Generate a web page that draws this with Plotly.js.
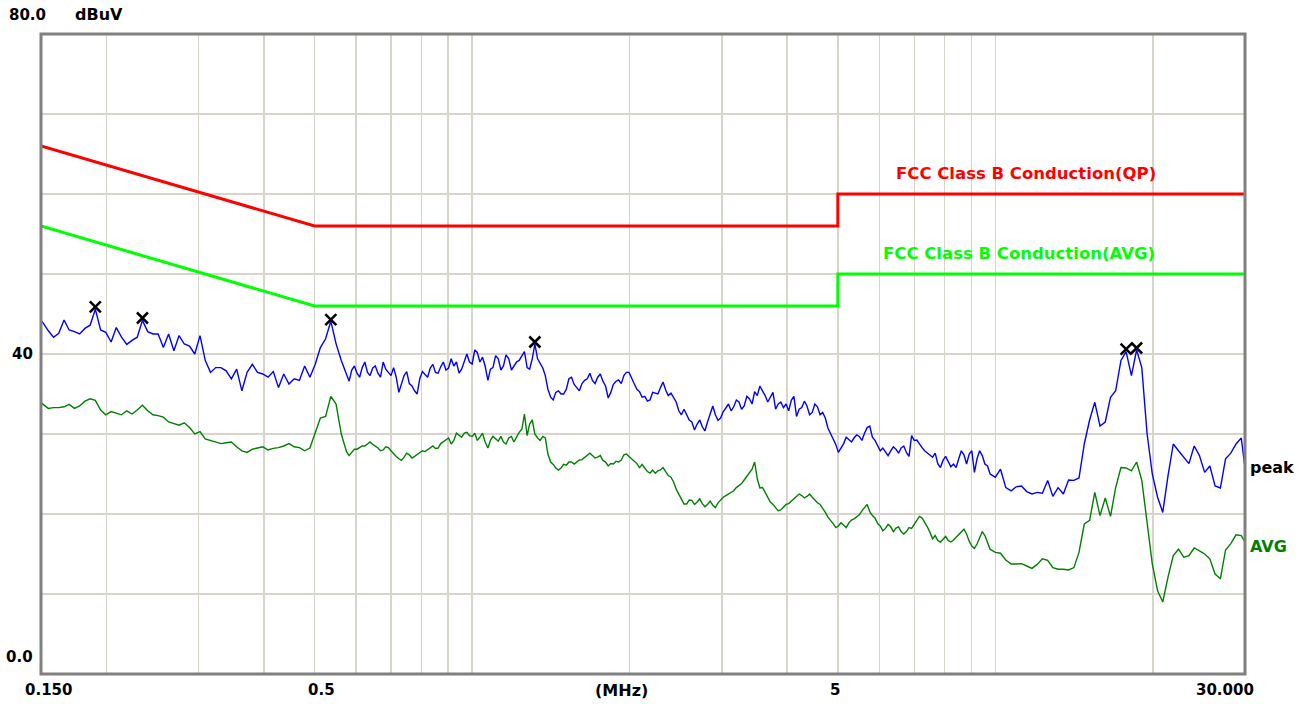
<!DOCTYPE html>
<html>
<head>
<meta charset="utf-8">
<script src="https://cdn.plot.ly/plotly-3.0.1.min.js"></script>
<style>
html,body{margin:0;padding:0;background:#fff;}
#chart{width:1302px;height:704px;}
</style>
</head>
<body>
<div id="chart"></div>
<script>
// Frequencies of the sweep (MHz)
const freq = [
0.150,
0.1514,0.1549,0.1585,0.1622,0.1660,0.1698,0.1738,0.1778,0.1820,0.1862,
0.1905,0.1950,0.1995,0.2042,0.2089,0.2138,0.2188,0.2239,0.2291,0.2344,
0.2399,0.2455,0.2512,0.2570,0.2630,0.2692,0.2754,0.2818,0.2884,0.2951,
0.3020,0.3090,0.3162,0.3236,0.3311,0.3388,0.3467,0.3548,0.3631,0.3715,
0.3802,0.3890,0.3981,0.4074,0.4169,0.4266,0.4365,0.4467,0.4571,0.4677,
0.4786,0.4898,0.5012,0.5129,0.5248,0.5370,0.5495,0.5623,
0.5754,0.5821, 0.5888,0.5957, 0.6026,0.6095, 0.6166,0.6237, 0.6310,0.6383,
0.6457,0.6531, 0.6607,0.6683, 0.6761,0.6839, 0.6918,0.6998, 0.7079,0.7161,
0.7244,0.7328, 0.7413,0.7499, 0.7586,0.7674, 0.7762,0.7852, 0.7943,0.8035,
0.8128,0.8222, 0.8318,0.8414, 0.8511,0.8610, 0.8710,0.8810, 0.8913,0.9016,
0.9120,0.9226, 0.9333,0.9441, 0.9550,0.9661, 0.9772,0.9886,
1.000,1.012, 1.023,1.035, 1.047,1.059, 1.072,1.084, 1.096,1.109,
1.122,1.135, 1.148,1.161, 1.175,1.189, 1.202,1.216, 1.230,1.245,
1.259,1.274, 1.288,1.303, 1.318,1.334, 1.349,1.365, 1.380,1.396,
1.413,1.429, 1.445,1.462, 1.479,1.496, 1.514,1.531, 1.549,1.567,
1.585,1.603, 1.622,1.641, 1.660,1.679, 1.698,1.718, 1.738,1.758,
1.778,1.799, 1.820,1.841, 1.862,1.884, 1.905,1.928, 1.950,1.972,
1.995,2.018, 2.042,2.065, 2.089,2.113, 2.138,2.163, 2.188,2.213,
2.239,2.265, 2.291,2.317, 2.344,2.371, 2.399,2.427, 2.455,2.483,
2.512,2.541, 2.570,2.600, 2.630,2.661, 2.692,2.723, 2.754,2.786,
2.818,2.851, 2.884,2.917, 2.951,2.985, 3.020,3.055, 3.090,3.126,
3.162,3.199, 3.236,3.273, 3.311,3.350, 3.388,3.428, 3.467,3.508,
3.548,3.589, 3.631,3.673, 3.715,3.758, 3.802,3.846, 3.890,3.936,
3.981,4.027, 4.074,4.121, 4.169,4.217, 4.266,4.315, 4.365,4.416,
4.467,4.519, 4.571,4.624, 4.677,4.732, 4.786,4.842, 4.898,4.955,
5.012,5.070, 5.129,5.188, 5.248,5.309, 5.370,5.433, 5.495,5.559,
5.623,5.689, 5.754,5.821, 5.888,5.957, 6.026,6.095, 6.166,6.237,
6.310,6.383, 6.457,6.531, 6.607,6.683, 6.761,6.839, 6.918,6.998,
7.079,7.161, 7.244,7.328, 7.413,7.499, 7.586,7.674, 7.762,7.852,
7.943,8.035, 8.128,8.222, 8.318,8.414, 8.511,8.610, 8.710,8.810,
8.913,9.016, 9.120,9.226, 9.333,9.441, 9.550,9.661, 9.772,
10.00,10.23,10.47,10.72,10.96,11.22,11.48,11.75,12.02,12.30,
12.59,12.88,13.18,13.49,13.80,14.13,14.45,14.79,15.14,15.49,
15.85,16.22,16.60,16.98,17.38,17.78,18.20,18.62,19.05,19.50,
19.95,20.42,20.89,21.38,21.88,22.39,22.91,23.44,23.99,24.55,
25.12,25.70,26.30,26.92,27.54,28.18,28.84,29.51,
30.00
];

// Peak detector trace (dBuV)
const peak = [
44.2,
43.9,42.9,42.1,42.6,44.25,43.0,42.8,42.5,43.2,43.6,
45.6,43.0,42.7,41.5,43.3,42.1,41.2,41.7,42.1,44.2,
42.8,42.5,42.5,40.8,42.5,40.4,42.3,41.25,41.0,40.0,
42.3,39.2,37.7,38.3,38.3,37.9,36.9,38.1,35.4,37.7,
38.7,37.7,37.5,37.1,37.8,35.8,37.5,36.25,36.9,36.7,
38.5,37.1,38.7,40.8,41.9,44.1,41.3,39.2,
37.3,36.6, 38.0,38.5, 37.6,37.1, 38.3,39.0, 37.7,37.3,
38.25,38.5, 37.6,37.1, 39.0,38.1, 37.7,37.3, 38.3,37.1,
35.2,36.2, 37.3,37.8, 36.3,36.0, 35.4,35.0, 36.9,37.8,
37.4,37.1, 38.25,38.7, 37.7,37.6, 38.4,39.0, 38.0,38.25,
39.4,38.5, 39.0,37.6, 38.1,39.2, 40.0,39.0,
38.75,40.5, 40.2,39.0, 39.6,38.5, 36.7,38.1, 38.3,39.8,
39.4,38.0, 38.5,39.9, 39.4,38.0, 38.5,39.0, 39.2,39.8,
40.3,38.3, 38.1,39.4, 41.25,39.4, 38.75,38.25, 37.3,35.6,
34.6,34.25, 35.2,35.4, 35.0,35.0, 35.6,36.9, 37.1,36.2,
35.8,35.4, 36.3,36.7, 36.9,37.6, 36.7,36.3, 37.1,37.5,
36.6,36.0, 34.5,35.2, 36.2,36.6, 36.75,36.3, 37.3,37.7,
37.7,36.9, 36.25,35.6, 35.3,34.6, 34.7,34.1, 34.25,35.2,
35.1,35.0, 35.8,36.5, 35.5,34.8, 35.1,34.6, 34.0,32.9,
32.4,33.1, 32.4,31.75, 31.5,30.5, 31.25,31.75, 30.9,30.4,
31.5,32.5, 33.5,32.4, 31.7,32.0, 32.8,33.25, 33.75,32.9,
33.4,34.25, 34.0,33.1, 33.5,34.7, 34.4,33.75, 35.3,34.8,
36.0,35.4, 34.8,34.0, 34.6,35.2, 33.1,33.75, 34.0,33.3,
33.75,32.9, 34.2,34.7, 32.2,33.1, 33.3,34.1, 33.5,32.4,
32.7,33.75, 33.4,32.4, 32.7,32.0, 30.75,30.0, 29.4,28.7,
27.7,28.3, 28.8,29.6, 29.25,29.0, 29.5,29.9, 29.7,29.2,
30.1,30.8, 31.0,29.6, 29.2,28.5, 27.9,28.25, 27.7,27.3,
27.9,28.4, 28.1,27.6, 28.25,28.5, 27.7,27.2, 29.8,29.2,
29.25,28.7, 28.3,27.9, 27.6,27.4, 27.1,27.6, 26.3,25.8,
26.7,27.2, 26.5,25.9, 26.25,25.8, 26.9,27.9, 27.4,26.25,
27.5,27.9, 25.2,26.9, 27.9,27.3, 26.25,26.0, 25.0,
24.6,25.6,23.3,22.9,23.4,23.5,22.8,22.5,22.7,22.6,
24.2,22.2,23.3,22.5,24.25,24.2,24.5,28.75,31.75,33.96,
31.0,31.5,34.6,35.4,39.2,40.3,37.3,40.5,38.3,30.0,
25.0,22.1,20.2,24.8,28.75,27.9,27.1,26.3,28.5,27.3,
25.2,26.0,23.5,23.25,26.9,27.6,28.75,29.5,
25.8
];

// Average detector trace (dBuV)
const average = [
34.0,
33.7,33.2,33.3,33.3,33.4,33.7,33.2,33.5,34.1,34.4,
34.2,33.0,32.4,32.8,32.6,32.4,32.9,32.5,33.0,33.6,
32.9,32.4,32.3,32.1,31.5,31.25,31.1,31.4,30.8,30.0,
30.3,29.4,29.2,29.0,28.8,28.9,29.0,28.4,27.9,27.7,
28.1,28.25,28.4,28.0,28.2,28.3,28.5,28.8,28.4,28.3,
27.9,28.25,30.1,32.0,32.2,34.7,33.75,30.0,
27.8,27.3, 27.7,28.1, 28.1,28.25, 28.5,28.5, 28.8,29.0,
28.7,28.5, 28.25,27.9, 28.0,28.4, 28.3,27.9, 27.5,27.2,
26.9,26.7, 27.1,27.6, 27.4,27.0, 27.2,27.4, 27.6,27.9,
27.8,28.0, 28.3,28.5, 28.2,28.25, 28.8,29.0, 29.2,29.5,
28.75,29.2, 30.1,29.8, 29.6,30.1, 30.2,29.8,
29.7,30.1, 29.2,29.6, 30.1,29.0, 28.25,29.2, 29.7,29.4,
29.1,29.7, 29.0,28.75, 29.5,29.7, 29.0,29.6, 30.2,30.6,
32.5,29.8, 31.25,31.75, 30.0,29.5, 29.2,29.7, 29.5,27.5,
26.5,26.2, 25.75,25.5, 25.75,26.2, 26.1,26.5, 26.5,26.25,
26.5,26.75, 26.8,27.1, 27.4,27.6, 27.3,27.0, 27.1,27.3,
26.7,26.5, 26.0,26.3, 26.25,26.6, 26.5,26.75, 27.4,27.5,
27.2,26.9, 26.7,26.3, 25.8,26.2, 25.75,25.3, 25.1,25.5,
25.1,25.4, 25.5,25.8, 25.3,24.8, 24.6,24.0, 23.1,22.5,
22.0,21.25, 21.25,21.75, 21.7,21.2, 21.5,21.9, 21.3,20.9,
21.2,21.6, 21.1,20.8, 21.4,21.75, 22.1,22.3, 22.5,22.6,
22.9,23.3, 23.5,23.8, 24.25,24.7, 25.0,25.6, 26.5,24.4,
23.25,23.3, 22.7,22.0, 21.5,21.2, 20.8,20.4, 20.5,20.9,
21.2,21.3, 21.6,21.9, 22.1,22.5, 22.3,22.0, 22.2,22.5,
22.1,21.75, 21.4,21.2, 20.75,20.2, 19.6,19.25, 18.8,18.3,
18.5,18.9, 18.6,18.3, 18.9,19.25, 19.4,19.6, 19.9,20.4,
20.75,21.2, 20.3,19.8, 19.5,18.8, 18.5,17.9, 18.2,18.7,
18.4,17.8, 18.25,18.4, 17.8,17.5, 17.8,18.3, 18.2,18.75,
19.25,19.7, 19.5,19.0, 18.4,17.7, 16.9,17.3, 16.7,16.5,
16.9,17.2, 16.7,16.5, 16.75,17.1, 17.4,17.8, 18.1,17.5,
16.6,16.0, 15.7,16.25, 17.0,17.8, 17.3,16.3, 15.6,
15.2,15.1,14.25,13.75,13.75,13.8,13.5,13.2,13.7,14.4,
14.2,13.3,13.1,13.1,13.0,13.3,15.2,18.75,19.2,22.7,
19.8,22.0,19.7,23.3,25.8,25.75,25.4,26.5,24.2,19.2,
13.75,10.4,9.0,12.1,14.8,15.6,14.6,14.8,15.75,15.4,
15.0,14.4,12.5,11.9,15.5,16.3,17.4,17.3,
16.5
];

if (freq.length !== peak.length || freq.length !== average.length) {
  throw new Error('length mismatch ' + freq.length + ' ' + peak.length + ' ' + average.length);
}

// FCC Class B limit lines
const limitFreq = [0.15, 0.5, 5, 5, 30];
const qpLimit = [66, 56, 56, 60, 60];
const avgLimit = [56, 46, 46, 50, 50];

// Marked peaks
const markFreq = [0.1905, 0.2344, 0.5370, 1.318, 17.78, 18.62];
const markLevel = [45.9, 44.5, 44.3, 41.5, 40.6, 40.75];

// Grid / tick values
const xGrid = [0.2,0.3,0.4,0.5,0.6,0.7,0.8,0.9,1,2,3,4,5,6,7,8,9,10,20];
const xLabels = ['0.150','0.5','(MHz)','5','30.000'];
const yLabels = ['80.0','40','0.0'];

const FAMILY = 'DejaVu Sans, Verdana, sans-serif';

const traces = [
  {x: limitFreq, y: qpLimit, mode: 'lines', line: {color: '#ff0000', width: 3}},
  {x: limitFreq, y: avgLimit, mode: 'lines', line: {color: '#00ff00', width: 3}},
  {x: freq, y: average, mode: 'lines', line: {color: '#008000', width: 1.4}},
  {x: freq, y: peak, mode: 'lines', line: {color: '#0000ff', width: 1.4}},
  {x: markFreq, y: markLevel, mode: 'markers',
   marker: {symbol: 'x-thin-open', size: 11, color: '#000', line: {color: '#000', width: 2.5}}}
];

function px(xp){ return (xp - 41) / 1204; }
function py(yp){ return (674 - yp) / 640; }

function ann(text, x, y, xanchor, color, size){
  return {text: text, xref: 'paper', yref: 'paper', x: x, y: y, xanchor: xanchor || 'center',
          yanchor: 'middle', showarrow: false,
          font: {family: FAMILY, size: size || 15, weight: 700, color: color || '#000'}};
}

const annotations = [
  ann(yLabels[0], px(7), py(15), 'left'),
  ann('dBuV', px(73), py(15), 'left', '#000', 16),
  ann(yLabels[1], px(35), py(354), 'right'),
  ann(yLabels[2], px(35), py(657), 'right'),
  ann(xLabels[0], px(23), py(690), 'left'),
  ann(xLabels[1], px(321), py(690)),
  ann(xLabels[2], px(621), py(690), 'center', '#000', 16),
  ann(xLabels[3], px(835), py(690)),
  ann(xLabels[4], px(1256), py(690), 'right'),
  ann('FCC Class B Conduction(QP)', px(894), py(173), 'left', '#ff0000', 16.5),
  ann('FCC Class B Conduction(AVG)', px(881), py(253), 'left', '#00ff00', 16.5),
  ann('peak', px(1248), py(467), 'left', '#000', 16),
  ann('AVG', px(1248), py(546), 'left', '#008000', 16)
];

const layout = {
  width: 1302, height: 704,
  margin: {l: 41, r: 57, t: 34, b: 30},
  paper_bgcolor: '#fff', plot_bgcolor: '#fff',
  showlegend: false,
  xaxis: {type: 'log', range: [Math.log10(0.15), Math.log10(30)], tickmode: 'array', tickvals: xGrid,
          showticklabels: false, ticks: '', showgrid: true, gridcolor: '#d8d4cc', gridwidth: 1.5,
          zeroline: false, showline: false, fixedrange: true},
  yaxis: {range: [0, 80], dtick: 10, tick0: 0, showticklabels: false, ticks: '', showgrid: true,
          gridcolor: '#d8d4cc', gridwidth: 1.5, zeroline: false, showline: false, fixedrange: true},
  shapes: [{type: 'rect', xref: 'paper', yref: 'paper', x0: 0, x1: 1, y0: 0, y1: 1,
            line: {color: '#808080', width: 3}, layer: 'above'}],
  annotations: annotations
};

Plotly.newPlot('chart', traces, layout, {displayModeBar: false, staticPlot: true});
</script>
</body>
</html>
